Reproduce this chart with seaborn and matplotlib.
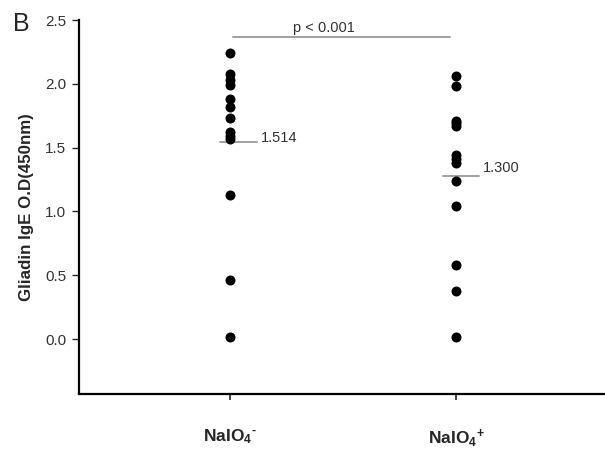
import matplotlib
matplotlib.use("Agg")
import matplotlib.pyplot as plt
import seaborn as sns
import pandas as pd

# ---- data ----
categories = ["NaIO$_4$$^{\\text{-}}$", "NaIO$_4$$^{+}$"]
group_minus = [2.24, 2.08, 2.03, 1.99, 1.88, 1.82, 1.73, 1.62, 1.59, 1.565, 1.13, 0.46, 0.02]
group_plus = [2.06, 1.985, 1.71, 1.69, 1.67, 1.44, 1.41, 1.38, 1.24, 1.045, 0.58, 0.38, 0.015]
mean_line_values = [1.545, 1.28]
mean_labels = ["1.514", "1.300"]
p_text = "p < 0.001"
y_ticks = [0.0, 0.5, 1.0, 1.5, 2.0, 2.5]
y_label = "Gliadin IgE O.D(450nm)"

sns.set_style("ticks")
plt.rcParams["font.family"] = ["Liberation Sans", "DejaVu Sans"]
plt.rcParams["mathtext.fontset"] = "custom"
plt.rcParams["mathtext.rm"] = "Liberation Sans:bold"
plt.rcParams["mathtext.bf"] = "Liberation Sans:bold"
plt.rcParams["mathtext.default"] = "bf"

df = pd.DataFrame({
    "group": [categories[0]] * len(group_minus) + [categories[1]] * len(group_plus),
    "value": group_minus + group_plus,
})

fig = plt.figure(figsize=(6.05, 4.49), dpi=100)
ax = fig.add_axes([79 / 605, 1 - 394 / 449, 1 - 79 / 605, 374 / 449])

sns.stripplot(data=df, x="group", y="value", order=categories, jitter=False,
              color="black", size=7.2, linewidth=0, ax=ax)

ax.set_xlim(-0.665, 1.655)
ax.set_ylim(-0.43, 2.5)
ax.set_yticks(y_ticks)
ax.set_yticklabels([f"{t:.1f}" for t in y_ticks], fontsize=11, color="#333333")
ax.set_xlabel("")
ax.set_ylabel(y_label, fontsize=12.2, fontweight="bold", labelpad=8)
for lbl in ax.get_xticklabels():
    lbl.set_fontsize(12.5)
    lbl.set_fontweight("bold")

sns.despine(ax=ax, top=True, right=True)
for sp in ["left", "bottom"]:
    ax.spines[sp].set_linewidth(1.6)
    ax.spines[sp].set_color("black")
ax.tick_params(axis="y", direction="out", length=5, width=1, pad=4)
ax.tick_params(axis="x", direction="out", length=4, width=1.2, pad=20)

# mean lines and labels
offsets = [(-0.045, 0.12), (-0.06, 0.10)]
label_dy = [0.03, 0.06]
for i, (m, lab) in enumerate(zip(mean_line_values, mean_labels)):
    lo, hi = offsets[i]
    ax.plot([i + lo, i + hi], [m, m], color="#a0a0a0", lw=1.4, zorder=1)
    ax.text(i + hi + 0.015, m + label_dy[i], lab, fontsize=10.5, color="#333333",
            ha="left", va="center")

# significance line
ax.plot([0.015, 0.97], [2.365, 2.365], color="#a0a0a0", lw=1.4)
ax.text(0.415, 2.385, p_text, fontsize=10.5, color="#333333", ha="center", va="bottom")

fig.text(13 / 605, 1 - 31 / 449, "B", fontsize=18, ha="left", va="baseline")

fig.savefig("out.png", dpi=100)
